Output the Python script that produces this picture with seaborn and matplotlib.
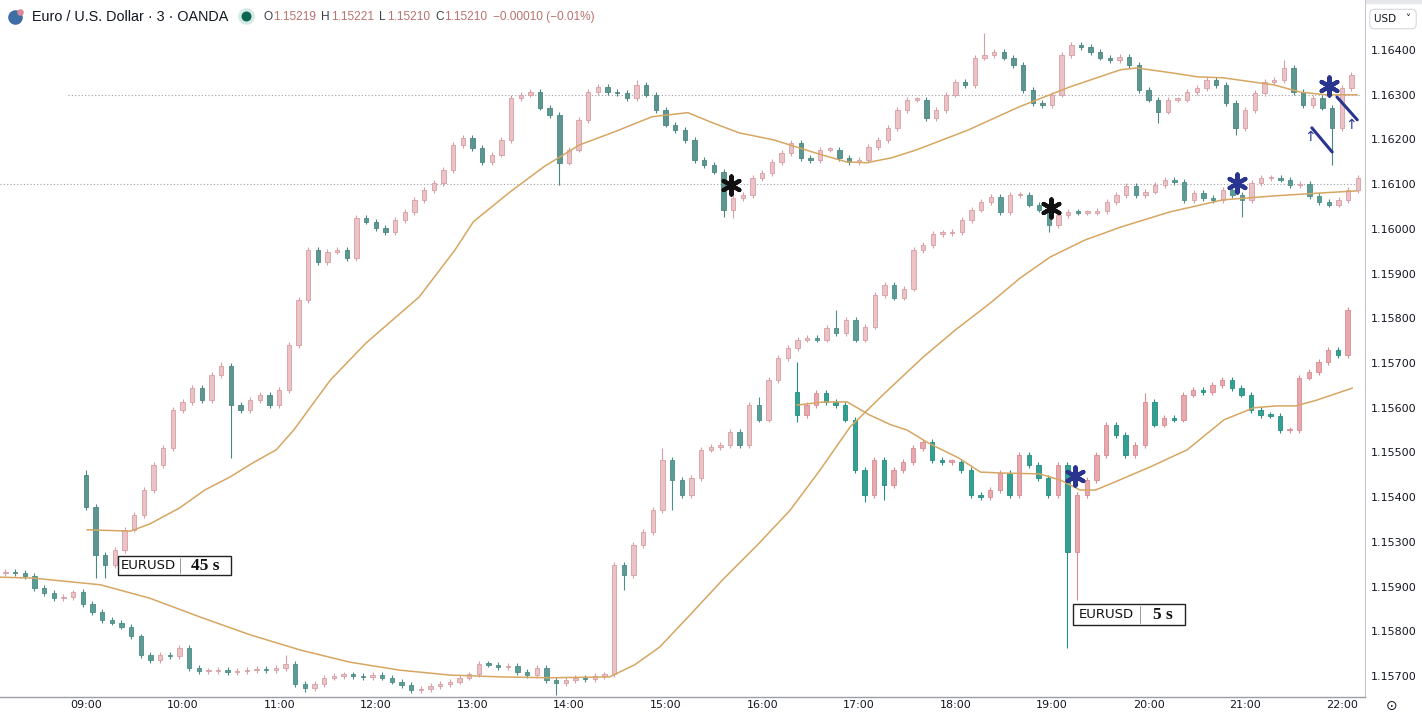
import numpy as np
import matplotlib
matplotlib.use("Agg")
import matplotlib.pyplot as plt
import seaborn as sns
from matplotlib.patches import Rectangle

# prices are in pips above 1.15000 on the chart's own (edited) price scale,
# times are hours of the day; one candle every 6 minutes
STEP = 0.1

# EURUSD 3 min (lowest series)
main_start = 8.1667
main_open = 23.0
main_close = [
    23.3, 23.0, 22.4, 19.7, 18.6, 17.4, 17.7, 18.8, 16.1, 14.3,
    12.5, 11.9, 11.0, 8.9, 4.7, 3.6, 4.7, 4.5, 6.3, 1.8,
    1.1, 1.1, 1.3, 0.9, 1.1, 1.3, 1.6, 1.3, 1.8, 2.7,
    -1.8, -2.7, -1.8, -0.4, 0.0, 0.4, 0.0, -0.2, 0.2, -0.4,
    -1.3, -2.0, -3.1, -2.9, -2.2, -1.8, -1.3, -0.4, 0.4, 2.7,
    2.5, 2.0, 2.2, 0.9, 0.2, 1.8, -0.9, -1.6, -0.9, -0.4,
    -0.7, 0.0, 0.4, 24.8, 22.6, 29.3, 32.2, 37.1, 48.3, 43.8,
    40.5, 44.3, 50.6, 51.2, 51.7, 54.6, 51.7, 60.6, 57.3, 66.2,
    71.1, 73.4, 75.2, 75.6, 75.2, 77.9, 76.7, 79.6, 75.2, 78.1,
    85.2, 87.5, 84.6, 86.6, 95.3, 96.4, 98.9, 99.1, 99.3, 102.0,
    104.3, 106.0, 107.2, 103.8, 107.6, 107.6, 105.4, 104.3, 100.9, 103.1,
    103.8, 103.6, 103.6, 104.0, 106.0, 107.6, 109.6, 107.6, 108.3, 109.8,
    111.0, 110.5, 106.5, 108.1, 106.9, 106.5, 108.7, 107.6, 106.5, 110.3,
    111.4, 111.4, 111.0, 109.8, 110.1, 107.4, 106.0, 105.4, 106.5, 108.7,
    111.4,
]
main_high = {7: 19.2, 18: 6.9, 29: 4.7, 68: 51.0, 78: 62.4, 86: 81.9}
main_low = {31: -3.6, 42: -3.8, 57: -4.3, 64: 19.2, 69: 37.1, 108: 99.3, 128: 102.7}

# EURUSD 45 s overlay
s45_start = 9.0
s45_open = 45.0
s45_close = [
    37.8, 27.1, 24.8, 28.2, 32.7, 36.0, 41.6, 47.2, 51.0, 59.5,
    61.3, 64.4, 61.7, 67.3, 69.4, 60.6, 59.5, 61.7, 62.9, 60.6,
    64.0, 74.0, 84.1, 95.3, 92.6, 94.9, 95.3, 93.5, 102.5, 101.6,
    100.2, 99.3, 102.0, 103.8, 106.5, 108.7, 110.3, 113.2, 118.8, 120.4,
    118.1, 115.0, 116.6, 119.9, 129.3, 130.0, 130.6, 127.1, 125.5, 114.8,
    117.7, 124.4, 130.6, 131.8, 130.6, 130.4, 129.3, 132.2, 130.0, 126.6,
    123.3, 122.1, 119.9, 115.4, 114.3, 112.8, 104.3, 106.9, 107.6, 111.4,
    112.5, 115.0, 117.0, 119.2, 115.9, 115.4, 117.7, 117.7, 115.9, 115.0,
    115.4, 118.3, 119.9, 122.6, 126.6, 128.9, 128.9, 124.8, 126.6, 130.0,
    132.9, 132.2, 138.3, 138.9, 139.6, 138.3, 136.7, 131.1, 128.2, 127.7,
    130.0, 138.9, 141.2, 140.7, 139.6, 138.3, 137.8, 138.5, 136.7, 131.1,
    128.9, 126.2, 128.9, 128.9, 130.6, 131.5, 133.3, 132.2, 128.2, 122.6,
    126.6, 130.4, 132.9, 133.3, 136.0, 130.6, 127.7, 129.3, 127.1, 122.6,
    131.5, 134.5,
]
s45_high = {0: 46.0, 14: 70.2, 57: 133.3, 93: 143.8, 124: 137.8}
s45_low = {1: 21.9, 2: 21.9, 15: 48.8, 49: 109.8, 66: 102.7, 67: 102.5,
           111: 123.7, 119: 121.0, 129: 114.3}

# EURUSD 5 s overlay
s5_start = 16.36
s5_open = 63.5
s5_close = [
    58.4, 60.6, 63.3, 61.3, 60.6, 57.3, 46.1, 40.5, 48.3, 42.7,
    46.1, 47.9, 51.0, 52.3, 48.3, 47.9, 47.9, 46.1, 40.5, 40.0,
    41.6, 45.4, 40.5, 49.4, 47.2, 44.3, 40.5, 47.2, 27.7, 40.5,
    43.8, 49.4, 56.2, 53.9, 49.4, 51.7, 61.3, 56.2, 57.7, 57.3,
    62.9, 64.0, 63.5, 65.1, 66.2, 64.4, 62.9, 59.5, 58.4, 58.2,
    55.0, 55.0, 66.7, 68.0, 70.2, 72.9, 71.8, 81.9,
]
s5_high = {0: 70.2, 36: 63.3, 57: 82.5}
s5_low = {0: 56.8, 7: 38.9, 9: 39.4, 28: 6.3, 29: 17.0}

# moving averages
main_ma_t = [8.11, 8.45, 9.15, 9.66, 10.18, 10.70, 11.22, 11.73, 12.25, 12.77,
             13.29, 13.80, 14.42, 14.68, 14.94, 15.25, 15.59, 15.95, 16.29, 16.60,
             16.91, 17.27, 17.67, 18.00, 18.36, 18.67, 18.98, 19.34, 19.71, 20.22,
             20.77, 21.31, 21.83, 22.16]
main_ma_v = [22.1, 21.9, 20.4, 17.4, 13.2, 9.2, 5.8, 3.1, 1.3, 0.2,
             -0.2, -0.4, -0.2, 2.5, 6.5, 13.6, 21.5, 29.3, 37.1, 46.1,
             55.7, 63.3, 71.4, 77.4, 83.4, 89.0, 93.7, 97.5, 100.4, 103.8,
             106.5, 107.4, 108.1, 108.5]
s45_ma_t = [9.01, 9.46, 9.66, 9.97, 10.23, 10.49, 10.73, 10.97, 11.15, 11.53,
            11.90, 12.45, 12.82, 13.01, 13.38, 13.74, 14.11, 14.47, 14.86, 15.23,
            15.49, 15.76, 16.12, 16.55, 16.87, 17.08, 17.34, 17.60, 18.13, 18.66,
            19.19, 19.71, 19.88, 20.24, 20.51, 20.77, 21.30, 21.57, 21.83, 22.16]
s45_ma_v = [32.7, 32.4, 34.0, 37.6, 41.6, 44.5, 47.7, 50.6, 55.0, 66.2,
            74.5, 84.8, 95.3, 101.6, 108.1, 113.9, 118.8, 121.7, 125.1, 126.0,
            123.7, 121.5, 119.9, 117.0, 115.0, 114.8, 115.9, 117.7, 122.1, 127.3,
            131.8, 135.6, 136.0, 134.9, 134.0, 133.8, 132.2, 130.6, 130.0, 130.0]
s5_ma_t = [16.36, 16.64, 16.88, 17.11, 17.33, 17.50, 17.72, 18.03, 18.26, 18.48,
           18.87, 19.09, 19.29, 19.45, 19.63, 20.02, 20.40, 20.78, 21.09, 21.32,
           21.52, 21.74, 22.11]
s5_ma_v = [60.6, 61.3, 61.3, 58.4, 56.2, 55.0, 52.1, 48.8, 45.6, 45.4,
           45.2, 43.8, 41.6, 41.6, 43.2, 46.8, 50.6, 57.3, 60.0, 60.4,
           60.4, 61.7, 64.4]

# drawings on the chart
guide_v = [130, 110]
guide_t0 = [8.81, 8.11]
guide_t1 = 22.19
star_black_t = [15.68, 18.99]
star_black_v = [109.8, 104.7]
star_blue_t = [19.24, 20.91, 21.87]
star_blue_v = [44.7, 110.3, 132.0]
stroke_t = [(21.69, 21.90), (21.95, 22.16)]
stroke_v = [(122.6, 117.2), (129.5, 124.4)]
arrow_t = [21.67, 22.09]
arrow_v = [120.6, 123.3]
box_label = ["45 s", "5 s"]
box_t0 = [9.33, 19.22]
box_sep = [9.97, 19.91]
box_t1 = [10.50, 20.38]
box_v0 = [22.6, 11.4]
box_v1 = [26.8, 16.1]

time_labels = ["09:00", "10:00", "11:00", "12:00", "13:00", "14:00", "15:00",
               "16:00", "17:00", "18:00", "19:00", "20:00", "21:00", "22:00"]
price_labels = ["1.15700", "1.15800", "1.15900", "1.15300", "1.15400", "1.15500",
                "1.15600", "1.15700", "1.15800", "1.15900", "1.16000", "1.16100",
                "1.16200", "1.16300", "1.16400"]

header_title = "Euro / U.S. Dollar · 3 · OANDA"
header_ohlc = [("O", "1.15219"), ("H", "1.15221"), ("L", "1.15210"), ("C", "1.15210")]
header_change = "−0.00010 (−0.01%)"

sns.set_theme(style="white")
plt.rcParams["font.family"] = ["DejaVu Sans"]

TEXT = "#131722"
MA_COLOR = "#d6a662"
BLUE = "#2a3590"

fig = plt.figure(figsize=(14.22, 7.14), dpi=100)
ax = fig.add_axes([0, 17 / 714, 1365 / 1422, 697 / 714])


def draw_candles(start, first_open, closes, highs, lows, up, up_edge, down, down_edge):
    closes = np.asarray(closes, float)
    t = start + STEP * np.arange(len(closes))
    opens = np.r_[first_open, closes[:-1]]
    top = np.maximum(opens, closes)
    bot = np.minimum(opens, closes)
    hi = top + 0.6
    lo = bot - 0.6
    for i, v in highs.items():
        hi[i] = v
    for i, v in lows.items():
        lo[i] = v
    rising = closes >= opens
    fill = np.where(rising, up, down)
    edge = np.where(rising, up_edge, down_edge)
    ax.vlines(t, lo, hi, colors=edge, linewidth=0.8, zorder=3)
    ax.bar(t, np.maximum(top - bot, 0.3), bottom=bot, width=0.045, color=fill,
           edgecolor=edge, linewidth=0.6, zorder=3.5)


# guide lines
for v, t0 in zip(guide_v, guide_t0):
    ax.plot([t0, guide_t1], [v, v], color="#9a9da6", lw=0.8, ls=(0, (1, 2)), zorder=1)

draw_candles(main_start, main_open, main_close, main_high, main_low,
             "#ebc3c6", "#d79ea4", "#5c9c96", "#4b8c86")
draw_candles(s45_start, s45_open, s45_close, s45_high, s45_low,
             "#ebc3c6", "#d79ea4", "#5c9690", "#4b8580")
draw_candles(s5_start, s5_open, s5_close, s5_high, s5_low,
             "#e8a9ae", "#d98b92", "#32a093", "#278c80")

for t, v in [(main_ma_t, main_ma_v), (s45_ma_t, s45_ma_v), (s5_ma_t, s5_ma_v)]:
    sns.lineplot(x=t, y=v, ax=ax, color=MA_COLOR, linewidth=1.1, sort=False, zorder=4)

# annotations
ax.scatter(star_black_t, star_black_v, marker=(6, 2, 0), s=170, linewidths=3.0,
           color="#111111", zorder=6)
ax.scatter(star_blue_t, star_blue_v, marker=(6, 2, 0), s=170, linewidths=3.0,
           color=BLUE, zorder=6)
for ts, vs in zip(stroke_t, stroke_v):
    ax.plot(ts, vs, color=BLUE, lw=2.2, solid_capstyle="round", zorder=6)
for t, v in zip(arrow_t, arrow_v):
    ax.text(t, v, "↑", color=BLUE, fontsize=10, ha="center", va="center", zorder=6)

for lab, t0, ts, t1, v0, v1 in zip(box_label, box_t0, box_sep, box_t1, box_v0, box_v1):
    ax.add_patch(Rectangle((t0, v0), t1 - t0, v1 - v0, facecolor="white",
                           edgecolor="#222222", linewidth=1.0, zorder=7))
    ax.plot([ts, ts], [v0 + 0.4, v1 - 0.4], color="#888888", lw=0.6, zorder=8)
    ax.text((t0 + ts) / 2, (v0 + v1) / 2, "EURUSD", fontsize=9.5, color="#111111",
            ha="center", va="center", zorder=8)
    ax.text((ts + t1) / 2, (v0 + v1) / 2, lab, fontsize=12.5, color="#111111",
            family="Liberation Serif", weight="bold", ha="center", va="center", zorder=8)

# axes
ax.set_xlim(8.110, 22.240)
ax.set_ylim(-4.7, 151.2)
ax.set_xticks(range(9, 23))
ax.set_xticklabels(time_labels)
ax.set_yticks(np.arange(0, 150, 10))
ax.set_yticklabels(price_labels)
ax.yaxis.tick_right()
ax.tick_params(axis="both", length=0, labelsize=8, colors=TEXT)
ax.tick_params(axis="y", pad=4.5)
ax.tick_params(axis="x", pad=2.5)
ax.set_xlabel("")
ax.set_ylabel("")
ax.grid(False)
for s in ["top", "left"]:
    ax.spines[s].set_visible(False)
ax.spines["right"].set_color("#c3c6ce")
ax.spines["bottom"].set_color("#9b9ea6")
ax.spines["right"].set_linewidth(0.8)
ax.spines["bottom"].set_linewidth(1.0)

# header
fig.add_artist(Rectangle((0, 1 - 3 / 714), 1, 3 / 714, transform=fig.transFigure,
                         color="#e6e7ea", zorder=0))
ax.scatter([15 / 1422], [1 - 17 / 714], s=90, color="#3f6ea6", transform=fig.transFigure,
           clip_on=False, zorder=9)
ax.scatter([20 / 1422], [1 - 12 / 714], s=14, color="#d9899a", transform=fig.transFigure,
           clip_on=False, zorder=9)
fig.text(32 / 1422, 1 - 17 / 714, header_title, fontsize=10.4, color=TEXT,
         family="Liberation Sans", va="center", ha="left")
ax.scatter([246 / 1422], [1 - 16 / 714], s=120, color="#d3ebe4", transform=fig.transFigure,
           clip_on=False, zorder=9)
ax.scatter([246 / 1422], [1 - 16 / 714], s=38, color="#0e6453", transform=fig.transFigure,
           clip_on=False, zorder=10)

prev = fig.text(263 / 1422, 1 - 17 / 714, "", fontsize=8.6, va="center", ha="left")
first = True
for letter, value in header_ohlc:
    prev = ax.annotate(letter, xy=(1, 0.5), xycoords=prev, xytext=(0 if first else 4, 0),
                       textcoords="offset points", va="center", ha="left", fontsize=8.6,
                       color="#3b3f4a", family="Liberation Sans", annotation_clip=False)
    prev = ax.annotate(value, xy=(1, 0.5), xycoords=prev, xytext=(0.5, 0),
                       textcoords="offset points", va="center", ha="left", fontsize=8.6,
                       color="#b8736e", family="Liberation Sans", annotation_clip=False)
    first = False
ax.annotate(header_change, xy=(1, 0.5), xycoords=prev, xytext=(4, 0),
            textcoords="offset points", va="center", ha="left", fontsize=8.6,
            color="#b8736e", family="Liberation Sans", annotation_clip=False)

fig.text(1393 / 1422, 1 - 19 / 714, "USD   ˅", fontsize=7.5, color=TEXT, ha="center",
         va="center", bbox=dict(boxstyle="round,pad=0.45", fc="white", ec="#d6d8de", lw=0.8))
fig.text(1392 / 1422, 1 - 706 / 714, "⊙", fontsize=10, color=TEXT, ha="center", va="center")

fig.savefig("out.png", dpi=100)
